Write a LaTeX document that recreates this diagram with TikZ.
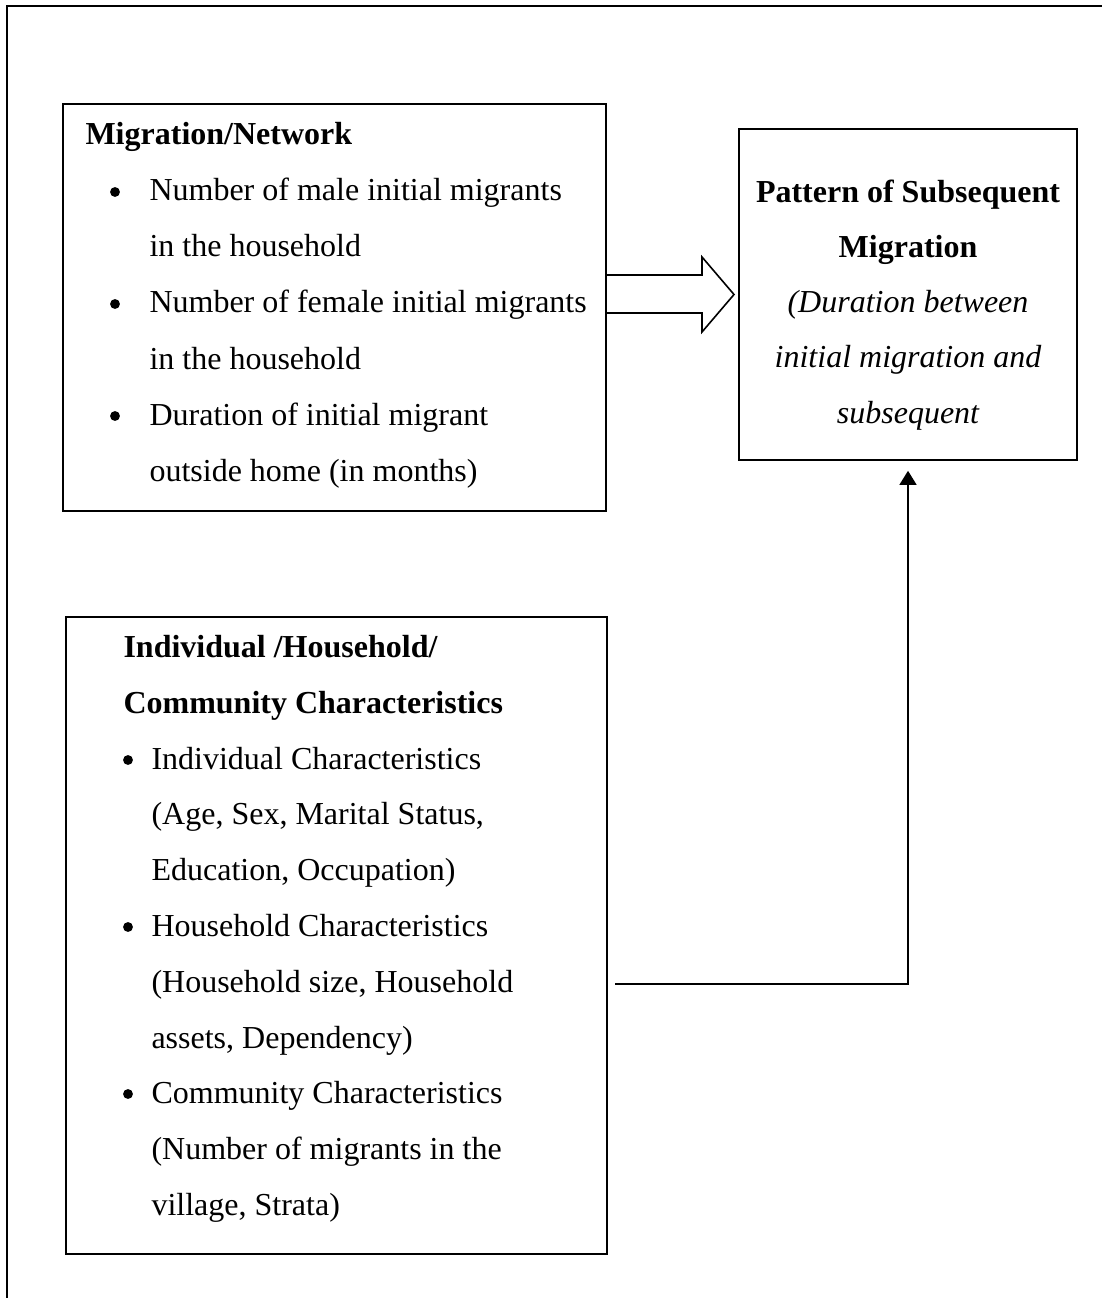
\documentclass[tikz,border=0pt]{standalone}
\usepackage{fontspec}
\setmainfont{Liberation Serif}
\usetikzlibrary{fit,arrows.meta}
\begin{document}
\begin{tikzpicture}[x=0.375pt,y=-0.375pt,
  frame/.style={line width=1pt},
  box/.style={draw,line width=0.6pt,inner sep=0pt},
  txt/.style={anchor=base west,inner sep=0pt,font=\fontsize{12}{14}\selectfont},
  ctr/.style={anchor=base,inner sep=0pt,font=\fontsize{12}{14}\selectfont},
  bul/.style={circle,fill,inner sep=0pt,minimum size=3.7pt},
  conn/.style={line width=0.6pt}]
\useasboundingbox (0,0) rectangle (1102,1298);
% outer frame (left and top edges only)
\coordinate (oTL) at (7,6);
\coordinate (oTR) at (1102,6);
\coordinate (oBL) at (7,1300);
\draw[frame] (oBL) -- (oTL) -- (oTR);
% boxes
\node[box,fit={(63,104) (606,511)}] (box1) {};
\node[box,fit={(739,129) (1077,460)}] (box3) {};
\node[box,fit={(66,617) (607,1254)}] (box2) {};
% box1 text
\node[txt,font=\fontsize{12}{14}\selectfont\bfseries] (h1) at (85,145) {Migration/Network};
\node[bul] (b11) at (115,192) {};
\node[txt] (t11) at (149,201) {Number of male initial migrants};
\node[txt] (t12) at (149,257) {in the household};
\node[bul] (b12) at (115,304) {};
\node[txt] (t13) at (149,313) {Number of female initial migrants};
\node[txt] (t14) at (149,369) {in the household};
\node[bul] (b13) at (115,416) {};
\node[txt] (t15) at (149,425) {Duration of initial migrant};
\node[txt] (t16) at (149,481) {outside home (in months)};
% box3 text
\node[ctr,font=\fontsize{12}{14}\selectfont\bfseries] (p1) at (908,203) {Pattern of Subsequent};
\node[ctr,font=\fontsize{12}{14}\selectfont\bfseries] (p2) at (908,258) {Migration};
\node[ctr,font=\fontsize{12}{14}\selectfont\itshape] (p3) at (908,313) {(Duration between};
\node[ctr,font=\fontsize{12}{14}\selectfont\itshape] (p4) at (908,368) {initial migration and};
\node[ctr,font=\fontsize{12}{14}\selectfont\itshape] (p5) at (908,423) {subsequent};
% box2 text
\node[txt,font=\fontsize{12}{14}\selectfont\bfseries] (h2) at (123,657) {Individual /Household/};
\node[txt,font=\fontsize{12}{14}\selectfont\bfseries] (h3) at (123,713) {Community Characteristics};
\node[bul] (b21) at (128,760) {};
\node[txt] (t21) at (151,769) {Individual Characteristics};
\node[txt] (t22) at (151,824) {(Age, Sex, Marital Status,};
\node[txt] (t23) at (151,880) {Education, Occupation)};
\node[bul] (b22) at (128,927) {};
\node[txt] (t24) at (151,936) {Household Characteristics};
\node[txt] (t25) at (151,992) {(Household size, Household};
\node[txt] (t26) at (151,1048) {assets, Dependency)};
\node[bul] (b23) at (128,1094) {};
\node[txt] (t27) at (151,1103) {Community Characteristics};
\node[txt] (t28) at (151,1159) {(Number of migrants in the};
\node[txt] (t29) at (151,1215) {village, Strata)};
% block arrow box1 -> box3
\draw[conn,line join=miter] (box1.east |- 0,275) -- (702,275) -- (702,257) -- (734,294.5)
  -- (702,332) -- (702,313) -- (box1.east |- 0,313);
% elbow connector box2 -> box3
\coordinate (s) at (615,984);
\draw[conn,-{Triangle[length=5.3pt,width=6.4pt]},shorten >=3.75pt] (s) -| (box3.south);
\end{tikzpicture}
\end{document}
